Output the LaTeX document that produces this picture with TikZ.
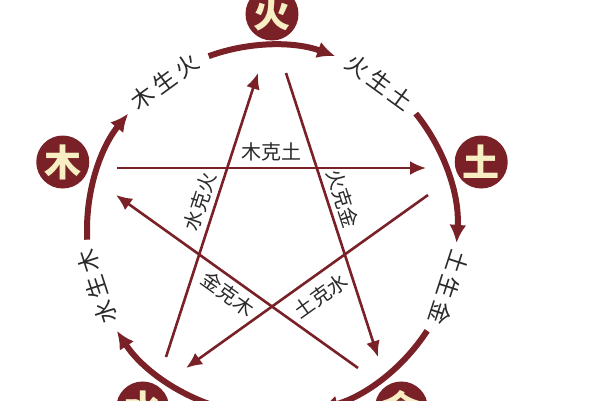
\documentclass[tikz,border=0pt]{standalone}
\usepackage{fontspec}
\newfontfamily\cjk{Noto Sans CJK SC}
\usetikzlibrary{arrows.meta}
\definecolor{maroon}{HTML}{7A2027}
\definecolor{cream}{HTML}{F7EEC4}
\definecolor{ink}{HTML}{2A2A2A}
\begin{document}
\begin{tikzpicture}[x=1pt,y=1pt,
  elem/.style={circle, fill=maroon, minimum size=53pt, inner sep=0pt, text=cream, font=\cjk\bfseries\fontsize{37}{37}\selectfont},
  cyc/.style={draw=maroon, line width=6pt, -{Latex[length=18pt,width=17pt]}},
  ke/.style={draw=maroon, line width=2.6pt, -{Latex[length=16pt,width=14pt]}},
  kelab/.style={text=ink, font=\cjk\fontsize{20}{20}\selectfont, inner sep=1pt},
  shenglab/.style={text=ink, font=\cjk\fontsize{23}{23}\selectfont, inner sep=0pt}
]
\useasboundingbox (-272,-170) rectangle (328,230);
\clip (-272,-170) rectangle (328,230);
\fill[white] (-272,-170) rectangle (328,230);

% element circles
\node[elem] (huo) at (90:216) {火};
\node[elem] (mu) at (162:220) {木};
\node[elem] (tu) at (18:220) {土};
\node[elem] (jin) at (306:220) {金};
\node[elem] (shui) at (234:220) {水};

% generating cycle arcs
\coordinate (g1) at (183:185);
\draw[cyc] (g1) arc[start angle=183, end angle=141, radius=185];
\coordinate (g2) at (110:185);
\draw[cyc] (g2) arc[start angle=110, end angle=70, radius=185];
\coordinate (g3) at (39:185);
\draw[cyc] (g3) arc[start angle=39, end angle=-4, radius=185];
\coordinate (g4) at (-33:185);
\draw[cyc] (g4) arc[start angle=-33, end angle=-75, radius=185];
\coordinate (g5) at (255:185);
\draw[cyc] (g5) arc[start angle=255, end angle=213, radius=185];

% generating labels
\node[shenglab, rotate=36] (l1) at (126:183) {木\hspace{4pt}生\hspace{4pt}火};
\node[shenglab, rotate=-36] (l2) at (54:183) {火\hspace{4pt}生\hspace{4pt}土};
\node[shenglab, rotate=-108] (l3) at (-18:186) {土\hspace{4pt}生\hspace{4pt}金};
\node[shenglab, rotate=108] (l5) at (198:184) {水\hspace{4pt}生\hspace{4pt}木};

% controlling star
\coordinate (a1) at (-155,62); \coordinate (a2) at (154,62);
\draw[ke] (a1) -- node[kelab, above=5pt] (k1) {木克土} (a2);
\coordinate (b1) at (156,35); \coordinate (b2) at (-86,-138);
\draw[ke] (b1) -- node[kelab, pos=0.49, sloped, below=8pt] (k2) {土克水} (b2);
\coordinate (c1) at (-106,-127); \coordinate (c2) at (-14,157);
\draw[ke] (c1) -- node[kelab, pos=0.53, sloped, above=4pt] (k3) {水克火} (c2);
\coordinate (d1) at (14,157); \coordinate (d2) at (106,-127);
\draw[ke] (d1) -- node[kelab, pos=0.46, sloped, above=4pt] (k4) {火克金} (d2);
\coordinate (e1) at (86,-138); \coordinate (e2) at (-156,35);
\draw[ke] (e1) -- node[kelab, pos=0.50, sloped, below=4pt] (k5) {金克木} (e2);
\end{tikzpicture}
\end{document}
